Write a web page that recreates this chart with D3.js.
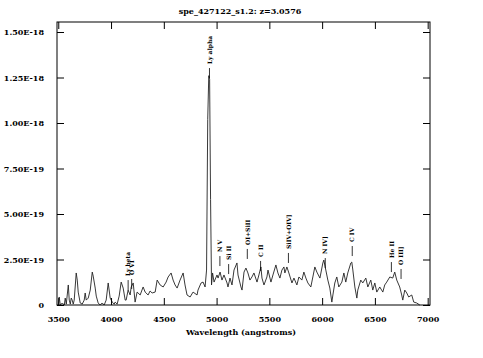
<!DOCTYPE html>
<html><head><meta charset="utf-8">
<script src="https://cdn.jsdelivr.net/npm/d3@7"></script>
<style>
body{margin:0;background:#fff}
svg{display:block}
text{font-family:"DejaVu Serif",serif;font-weight:bold;fill:#000}
</style>
</head><body>
<svg id="c" width="483" height="358"></svg>
<script>
// ---- data ----
const title = "spe_427122_s1.2: z=3.0576";
const xLabel = "Wavelength (angstroms)";
const redshift = 3.0576;
const wavelength = [3500,3509,3519,3538,3557,3566,3576,3595,3604,3614,3623,3632,3642,3651,3670,3680,3689,3708,3727,3746,
 3755,3765,3784,3803,3822,3831,3850,3860,3878,3897,3916,3935,3954,3973,3992,4011,4030,4039,4058,4077,
 4096,4115,4134,4143,4162,4181,4191,4210,4228,4247,4276,4304,4323,4351,4370,4389,4418,4437,4465,4494,
 4522,4541,4569,4588,4607,4626,4654,4683,4701,4720,4749,4777,4815,4824,4853,4872,4891,4905,4916,4926,
 4934,4943,4952,4962,4976,5004,5014,5033,5051,5070,5099,5108,5127,5146,5165,5193,5203,5231,5241,5260,
 5278,5297,5316,5335,5354,5383,5401,5420,5430,5449,5477,5487,5515,5534,5562,5581,5600,5619,5638,5647,
 5666,5685,5714,5733,5761,5780,5808,5827,5846,5865,5893,5912,5931,5950,5979,6007,6016,6035,6054,6073,
 6092,6102,6120,6139,6158,6187,6206,6224,6243,6272,6281,6291,6310,6329,6338,6366,6385,6414,6433,6461,
 6480,6499,6518,6546,6575,6593,6612,6641,6669,6688,6707,6735,6754,6764,6783,6802,6820,6849,6868,6896,6925];
// flux in units of 1e-19 erg/s/cm2/A
const flux = [0,0.44,0,0.11,0,0.38,0.05,1.10,0.27,0.05,0.38,0.27,0.05,0.27,1.76,1.37,0.71,0.11,0.05,0.27,
 0.66,0.27,0.38,0.82,1.81,1.59,0.93,0.49,0.11,0,0.11,0,0.27,1.21,0.38,0.16,0.05,0.16,0.05,0.49,
 1.26,0.93,0.27,0.27,0.82,0.55,0.99,1.21,0.16,0.71,0.55,0.99,0.71,0.55,0.77,0.66,0.71,1.37,1.10,0.99,
 1.26,1.54,1.76,1.37,1.10,0.93,1.37,1.76,1.10,0.55,0.44,0.71,0.55,0.82,1.21,1.26,0.99,1.92,10.2,12.6,
 12.4,5.8,1.10,1.76,1.26,1.65,1.48,1.81,1.37,1.65,1.21,0.99,1.48,1.10,1.92,2.31,1.65,0.99,0.82,1.81,
 2.03,1.76,1.37,1.54,1.76,1.26,1.65,2.09,1.48,1.10,1.54,1.92,1.26,1.65,2.20,1.76,1.48,1.92,2.09,1.76,
 2.09,1.76,1.21,1.48,1.10,1.54,1.37,1.81,1.48,1.21,0.99,1.54,2.09,1.81,1.48,2.31,2.47,1.92,1.37,0.93,
 0.16,0.55,1.21,1.54,0.99,1.26,1.76,1.26,1.76,2.31,2.36,1.92,0.99,0.38,0.82,1.37,1.21,1.48,0.99,1.37,
 0.82,1.21,0.71,0.99,0.71,1.10,1.26,1.54,1.48,1.81,1.37,0.99,0.55,0.27,0.82,0.66,0.44,0.55,0.16,0.11,0];
const lineNames = ["Ly beta","O VI","Ly alpha","N V","Si II","OI+SiII","C II","SiIV+OIV]","N IV]","C IV","He II","O III]"];
const lineRest  = [1025.7,1034.0,1215.67,1240.0,1260.4,1304.0,1335.0,1400.0,1486.0,1549.0,1640.4,1663.0];
// flux level (1e-19) of the base of each marker
const lineLevel = [0.82,0.88,12.47,2.14,1.70,2.53,1.87,2.31,2.03,2.69,1.81,1.43];
const xTicks = [3500,4000,4500,5000,5500,6000,6500,7000];
const yTicks = [0,2.5e-19,5e-19,7.5e-19,1e-18,1.25e-18,1.5e-18];
const yTickLabels = ["0","2.50E-19","5.00E-19","7.50E-19","1.00E-18","1.25E-18","1.50E-18"];

// ---- chart ----
const svg = d3.select("#c");
const L = 57, R = 430, T = 22, B = 305;
const x = d3.scaleLinear().domain([3488, 7022]).range([L, R]);
const y = d3.scaleLinear().domain([0, 1.555e-18]).range([B, T]);
const tk = 7;

// spectrum
const pts = wavelength.map((w,i)=>[w, flux[i]*1e-19]);
svg.append("path").datum(pts)
  .attr("fill","none").attr("stroke","#222").attr("stroke-width",0.9)
  .attr("d", d3.line().x(d=>x(d[0])).y(d=>y(d[1])));

// frame
svg.append("rect").attr("x",L).attr("y",T).attr("width",R-L).attr("height",B-T)
  .attr("fill","none").attr("stroke","#000").attr("stroke-width",1);

// axes via d3 axis (ticks inward)
const fs = "8px";
const bx = svg.append("g").attr("transform",`translate(0,${B})`)
  .call(d3.axisBottom(x).tickValues(xTicks).tickSizeInner(-tk).tickSizeOuter(0).tickPadding(tk+4).tickFormat(d3.format("d")));
const tx = svg.append("g").attr("transform",`translate(0,${T})`)
  .call(d3.axisTop(x).tickValues(xTicks).tickSizeInner(-tk).tickSizeOuter(0).tickFormat(""));
const ly = svg.append("g").attr("transform",`translate(${L},0)`)
  .call(d3.axisLeft(y).tickValues(yTicks).tickSizeInner(-tk).tickSizeOuter(0).tickPadding(tk+6).tickFormat((d,i)=>yTickLabels[i]));
const ry = svg.append("g").attr("transform",`translate(${R},0)`)
  .call(d3.axisRight(y).tickValues(yTicks).tickSizeInner(-tk).tickSizeOuter(0).tickFormat(""));
[bx,tx,ly,ry].forEach(g=>{
  g.select(".domain").remove();
  g.selectAll("line").attr("stroke","#000").attr("stroke-width",1);
  g.selectAll("text").attr("font-family",'"DejaVu Serif",serif').attr("font-weight","bold").attr("font-size",fs).attr("fill","#000");
});

// title & x label
svg.append("text").attr("x",240).attr("y",14).attr("text-anchor","middle").attr("font-size","8px").text(title);
svg.append("text").attr("x",241).attr("y",335).attr("text-anchor","middle").attr("font-size","8px").text(xLabel);

// line markers & labels
const mk = 10, gap = 4;
lineNames.forEach((n,i)=>{
  const lx = x(lineRest[i]*(1+redshift));
  const yb = y(lineLevel[i]*1e-19);
  svg.append("line").attr("x1",lx).attr("x2",lx).attr("y1",yb).attr("y2",yb-mk)
    .attr("stroke","#000").attr("stroke-width",0.8);
  svg.append("text").attr("transform",`translate(${lx+2.2},${yb-mk-gap}) rotate(-90)`)
    .attr("font-size","6px").attr("text-anchor","start").text(n);
});
</script>
</body></html>
